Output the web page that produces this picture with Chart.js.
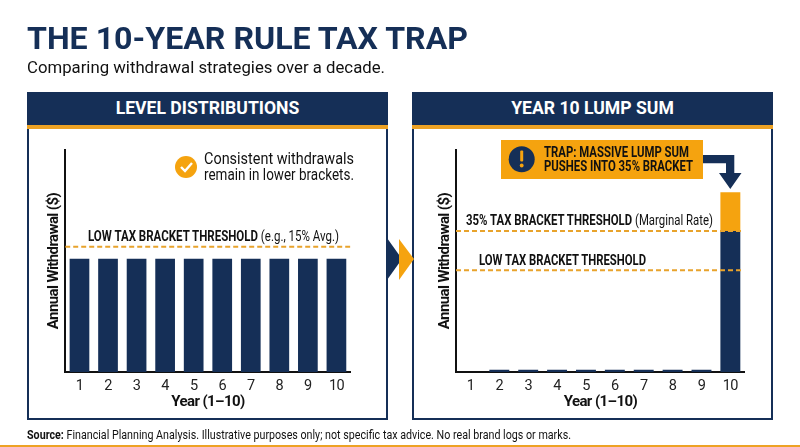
<!DOCTYPE html>
<html><head><meta charset="utf-8">
<script src="https://cdn.jsdelivr.net/npm/chart.js@4"></script>
<style>
html,body{margin:0;padding:0;background:#fff;width:800px;height:447px;overflow:hidden;font-family:Roboto,sans-serif}
.t{position:absolute;white-space:nowrap;transform-origin:0 50%;color:#111;line-height:1}
.panel{position:absolute;top:92px;height:328px;box-sizing:border-box;border:2px solid #152f57;border-top:0;background:#fff}
.hd{position:absolute;top:92px;height:33px;background:#152f57;color:#fff;font-weight:700;font-size:17.6px;text-align:center;line-height:33px}
.rule{position:absolute;top:125px;height:4px;background:#eda224}
.cv{position:absolute;top:129px;height:291px;width:361px}
svg{position:absolute;left:0;top:0}
b{font-weight:700}
</style></head><body>
<div class="panel" style="left:27px;width:361px"></div>
<div class="panel" style="left:412px;width:361px"></div>
<div class="hd" style="left:27px;width:361px">LEVEL DISTRIBUTIONS</div>
<div class="hd" style="left:412px;width:361px">YEAR 10 LUMP SUM</div>
<div class="rule" style="left:27px;width:361px"></div>
<div class="rule" style="left:412px;width:361px"></div>
<div class="cv" style="left:27px"><canvas id="c1" width="361" height="291"></canvas></div>
<div class="cv" style="left:412px"><canvas id="c2" width="361" height="291"></canvas></div>
<svg width="800" height="447">
<polygon points="387,238 402,259 387,280" fill="#152f57"/>
<polygon points="399,239 414,259 399,280" fill="#f5a30f"/>
<circle cx="186" cy="167" r="11" fill="#f5a30f"/>
<polyline points="181,167 185,171 192,163" fill="none" stroke="#fff" stroke-width="2.4"/>
<rect x="501" y="140" width="202" height="39" fill="#f5a30f"/>
<circle cx="521.7" cy="159.3" r="13" fill="#152f57"/>
<rect x="520.2" y="150.5" width="3" height="11" rx="1" fill="#f5a30f"/>
<circle cx="521.7" cy="165.5" r="1.9" fill="#f5a30f"/>
<polygon points="703,155 734.3,155 734.3,173 741.5,173 730.3,189 719,173 726,173 726,163.3 703,163.3" fill="#152f57"/>
</svg>
<div class="t" data-w="441" style="left:27px;top:22px;font-size:32px;font-weight:700;color:#152f57">THE 10-YEAR RULE TAX TRAP</div>
<div class="t" data-w="358" style="left:27px;top:59px;font-size:17px;color:#111">Comparing withdrawal strategies over a decade.</div>
<div class="t" data-w="150" style="left:203.5px;top:151px;font-size:16px">Consistent withdrawals</div>
<div class="t" data-w="150" style="left:203.5px;top:167px;font-size:16px">remain in lower brackets.</div>
<div class="t" data-w="251" style="left:88px;top:229px;font-size:14px"><b>LOW TAX BRACKET THRESHOLD</b> (e.g., 15% Avg.)</div>
<div class="t" data-w="247" style="left:466px;top:213px;font-size:14px"><b>35% TAX BRACKET THRESHOLD</b> (Marginal Rate)</div>
<div class="t" data-w="167" style="left:479px;top:253px;font-size:14px"><b>LOW TAX BRACKET THRESHOLD</b></div>
<div class="t" data-w="145" style="left:544px;top:146px;font-size:14.5px;font-weight:700">TRAP: MASSIVE LUMP SUM</div>
<div class="t" data-w="149" style="left:544px;top:160px;font-size:14.5px;font-weight:700">PUSHES INTO 35% BRACKET</div>
<div class="t" data-w="544" style="left:27px;top:428px;font-size:13.5px"><b>Source:</b> Financial Planning Analysis. Illustrative purposes only; not specific tax advice. No real brand logs or marks.</div>
<div style="position:absolute;left:0;top:445px;width:800px;height:2px;background:#eda224"></div>
<script>
const years = ['1','2','3','4','5','6','7','8','9','10'];
const levelValues = [51,51,51,51,51,51,51,51,51,51];
const lumpBelow = [0,1,1,1,1,1,1,1,1,63.5];
const lumpAbove = [null,null,null,null,null,null,null,null,null,[63.5,81]];
const levelThreshold = 56.4;
const lowThreshold = 45.8;
const highThreshold = 63.5;
const yMax = 100;
const navy = '#152f57', gold = '#f5a30f', dash = '#e8a32c', axisInk = '#111';
const fontFamily = 'Roboto,sans-serif';

document.querySelectorAll('.t[data-w]').forEach(el => {
  const w = el.getBoundingClientRect().width;
  el.style.transform = 'scaleX(' + (parseFloat(el.dataset.w) / w) + ')';
});

const tighten = {id:'tighten', beforeDraw(c){ c.ctx.letterSpacing = '-0.6px'; }};

function thresholdLine(v, xEnd) {
  return {type:'line', xAxisID:'xLine', data:[{x:0,y:v},{x:xEnd,y:v}], borderColor:dash, borderWidth:2,
    borderDash:[5,3], pointRadius:0, order:0};
}
function makeChart(id, datasets, padLeft, padRight, leftW) {
  new Chart(document.getElementById(id), {
    type:'bar',
    data:{labels:years, datasets},
    plugins:[tighten],
    options:{
      responsive:false, animation:false,
      layout:{padding:{top:21,right:padRight,bottom:9,left:padLeft}},
      plugins:{legend:{display:false},tooltip:{enabled:false}},
      scales:{
        x:{type:'category', grid:{display:false,drawTicks:false}, border:{color:axisInk,width:2},
           ticks:{color:'#222',font:{family:fontFamily,size:14.5},padding:6,maxRotation:0},
           title:{display:true,text:'Year (1\u201310)',color:'#111',font:{family:fontFamily,size:15,weight:'bold'},padding:{top:2,bottom:0}},
           afterFit(s){s.height=39;}},
        xLine:{type:'linear',display:false,min:0,max:1,offset:false},
        y:{min:0,max:yMax,grid:{display:false,drawTicks:false},border:{color:axisInk,width:2},
           ticks:{display:false},
           title:{display:true,text:'Annual Withdrawal ($)',color:'#111',font:{family:fontFamily,size:15,weight:'bold'},padding:0},
           afterFit(s){s.width=leftW;}}
      }
    }
  });
}
const barOpts = {categoryPercentage:1, barPercentage:0.69, grouped:false, borderWidth:0, order:1};
makeChart('c1',[
  thresholdLine(levelThreshold,1),
  {...barOpts, data:levelValues, backgroundColor:navy}
],18,37.3,20.2);
makeChart('c2',[
  thresholdLine(highThreshold,0.99),
  thresholdLine(lowThreshold,0.99),
  {...barOpts, data:lumpBelow, backgroundColor:navy},
  {...barOpts, data:lumpAbove, backgroundColor:gold}
],24,28.2,20);
</script>
</body></html>
